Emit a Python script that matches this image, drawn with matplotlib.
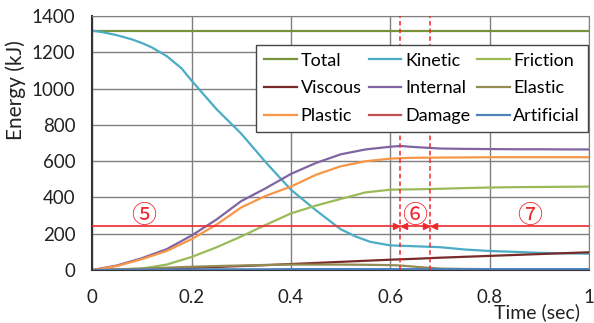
import numpy as np
import matplotlib
matplotlib.use("Agg")
import matplotlib.pyplot as plt

plt.rcParams['font.family'] = ['Lato', 'DejaVu Sans']

# ===== data =====
t = [0, 0.05, 0.1, 0.15, 0.2, 0.25, 0.3, 0.35, 0.4, 0.45, 0.5, 0.55,
     0.6, 0.62, 0.65, 0.7, 0.75, 0.8, 0.85, 0.9, 0.95, 1.0]

# kinetic is curved more tightly, so it has its own time points
t_kin   = [0, 0.02, 0.05, 0.08, 0.1, 0.12, 0.15, 0.18, 0.2, 0.25, 0.3, 0.35,
           0.4, 0.45, 0.5, 0.53, 0.56, 0.6, 0.65, 0.7, 0.75, 0.8, 0.85, 0.9,
           0.95, 1.0]
kinetic = [1320, 1312, 1295, 1272, 1252, 1228, 1180, 1112, 1045, 888, 752, 592,
           443, 330, 225, 185, 155, 136, 131, 126, 113, 105, 100, 95,
           92, 90]

total      = [1320]*22
friction   = [0, 2, 8, 30, 72, 125, 185, 250, 312, 355, 392, 428,
              443, 444, 445, 448, 452, 455, 457, 458, 459, 460]
viscous    = [0, 1, 3, 7, 12, 17, 22, 27, 33, 39, 45, 51,
              57, 59, 62, 68, 73, 78, 83, 88, 93, 98]
internal   = [0, 25, 65, 115, 190, 278, 380, 452, 530, 590, 638, 665,
              680, 684, 678, 670, 668, 667, 666, 666, 665, 665]
elastic    = [0, 4, 8, 13, 18, 22, 25, 28, 30, 30, 30, 29,
              27, 25, 18, 8, 6, 5, 5, 5, 5, 5]
plastic    = [0, 22, 60, 105, 170, 250, 345, 410, 460, 525, 572, 600,
              614, 617, 619, 620, 621, 622, 622, 622, 622, 622]
damage     = [0]*22
artificial = [0, 1, 2, 3, 3, 4, 4, 4, 5, 5, 5, 5,
              5, 5, 5, 5, 5, 5, 5, 5, 5, 5]

series = [("Total", t, total, "#77933C"), ("Kinetic", t_kin, kinetic, "#4BACC6"),
          ("Friction", t, friction, "#9BBB59"), ("Viscous", t, viscous, "#772C2A"),
          ("Internal", t, internal, "#8064A2"), ("Elastic", t, elastic, "#948A54"),
          ("Plastic", t, plastic, "#F79646"), ("Damage", t, damage, "#C0504D"),
          ("Artificial", t, artificial, "#4F81BD")]

# annotation values
ref_level = 245
phase_bounds = [0.62, 0.68]
phase_labels = [("⑤", 0.103), ("⑥", 0.648), ("⑦", 0.88)]
label_level = 300

fig = plt.figure(figsize=(5.94, 3.23), dpi=100)
ax = fig.add_axes([0.155, 0.164, 0.837, 0.786])

handles = {}
for name, tx, vals, col in series:
    h, = ax.plot(tx, vals, color=col, lw=1.6, label=name)
    handles[name] = h

RED = "#F0282D"
ax.axhline(ref_level, color=RED, lw=1.2, zorder=3)
for xb in phase_bounds:
    ax.axvline(xb, color=RED, lw=1.1, ls=(0, (3, 2)), zorder=3)
    ax.plot([xb - 0.008], [ref_level], marker='>', color=RED, ms=5, zorder=4)
    ax.plot([xb + 0.008], [ref_level], marker='<', color=RED, ms=5, zorder=4)
for txt, xl in phase_labels:
    ax.text(xl, label_level, txt, color=RED, fontsize=18, ha='center', va='center',
            family=['Noto Sans CJK JP', 'DejaVu Sans'], zorder=5)

ax.set_xlim(0, 1)
ax.set_ylim(0, 1400)
ax.set_xticks([0, 0.2, 0.4, 0.6, 0.8, 1.0])
ax.set_xticklabels(["0", "0.2", "0.4", "0.6", "0.8", "1"])
ax.set_yticks(range(0, 1401, 200))
ax.grid(True, color="#7F7F7F", lw=1.0)
ax.set_axisbelow(True)
ax.tick_params(length=0, labelsize=13.5, colors="#222222")
ax.tick_params(axis='y', pad=12)
ax.tick_params(axis='x', pad=14)
for s in ax.spines.values():
    s.set_color("#7F7F7F")
ax.spines['left'].set_color("#333333")
ax.spines['left'].set_linewidth(1.5)
ax.spines['bottom'].set_color("#333333")

ax.set_ylabel("Energy (kJ)", fontsize=15, color="#222222")
ax.yaxis.set_label_coords(-0.132, 0.71)
fig.text(0.976, 0.005, "Time (sec)", fontsize=14, ha='right', va='bottom', color="#222222")

order = ["Total", "Viscous", "Plastic", "Kinetic", "Internal", "Damage",
         "Friction", "Elastic", "Artificial"]
leg = ax.legend([handles[n] for n in order], order, ncol=3, loc='upper right',
                bbox_to_anchor=(0.998, 0.888), fontsize=13, frameon=True,
                fancybox=False, edgecolor="#444444", framealpha=1,
                handlelength=1.8, handletextpad=0.2, columnspacing=0.4,
                labelspacing=0.65, borderpad=0.45, borderaxespad=0)
leg.get_frame().set_linewidth(1.0)

fig.savefig("out.png", dpi=100)
